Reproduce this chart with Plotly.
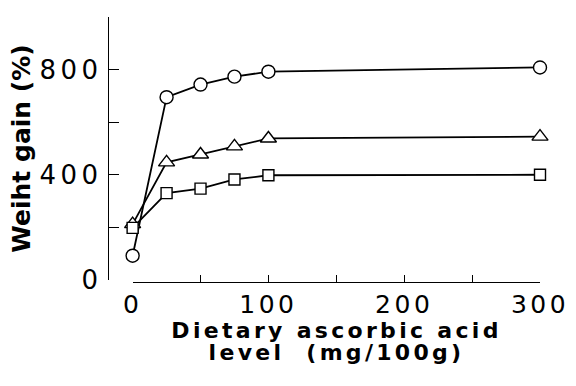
import plotly.graph_objects as go

levels = [0, 25, 50, 75, 100, 300]
gain_circle = [92, 695, 743, 773, 792, 808]
gain_triangle = [212, 447, 477, 508, 538, 545]
gain_square = [198, 330, 347, 382, 398, 400]

x_tickvals = [0, 50, 100, 150, 200, 250, 300]
x_ticktext = ["0", "", "100", "", "200", "", "300"]
y_tickvals = [0, 200, 400, 600, 800, 1000]
y_ticktext = ["0", "", "400", "", "800", ""]

x_title_1 = "Dietary ascorbic acid"
x_title_2 = "level  (mg/100g)"
y_title = "Weiht gain (%)"

fig = go.Figure()
series = [
    (gain_circle, "circle", 13),
    (gain_triangle, "triangle-up", 14),
    (gain_square, "square", 11),
]
for ys, sym, sz in series:
    fig.add_trace(go.Scatter(
        x=levels, y=ys, mode="lines+markers",
        line=dict(color="black", width=1.8),
        marker=dict(symbol=sym, size=sz, color="white",
                    line=dict(color="black", width=1.4)),
        cliponaxis=False, showlegend=False))

xmid = 0.057 + (1 - 0.057) / 2
for txt, yy in [(x_title_1, -0.130), (x_title_2, -0.213)]:
    fig.add_annotation(
        text="<b>" + txt + "</b>", xref="paper", yref="paper",
        x=xmid, y=yy, xanchor="center", yanchor="top",
        showarrow=False, font=dict(size=22, family="DejaVu Sans", color="black"),
    )

fig.update_layout(
    width=576, height=386,
    margin=dict(l=108, r=30, t=17, b=104),
    plot_bgcolor="white", paper_bgcolor="white",
    font=dict(family="DejaVu Sans", color="black"),
    xaxis=dict(
        range=[0, 300], domain=[0.057, 1], anchor="free", position=0,
        tickvals=x_tickvals, ticktext=x_ticktext,
        ticks="inside", ticklen=7, tickwidth=1.3, tickcolor="black",
        showline=True, linecolor="black", linewidth=1.3,
        showgrid=False, zeroline=False,
        tickfont=dict(size=25, family="DejaVu Sans"),
    ),
    yaxis=dict(
        range=[0, 1000], domain=[0.008, 1], anchor="free", position=0,
        tickvals=y_tickvals, ticktext=y_ticktext,
        ticks="inside", ticklen=10, tickwidth=1.3, tickcolor="black",
        showline=True, linecolor="black", linewidth=1.3,
        showgrid=False, zeroline=False,
        tickfont=dict(size=26, family="DejaVu Sans"),
        title=dict(text="<b>" + y_title + "</b>",
                   font=dict(size=25, family="DejaVu Sans"), standoff=14),
    ),
)

post = """
var st = document.createElement('style');
st.textContent = '.xtick text { letter-spacing: 3.5px !important; } '
  + '.ytick text, g.ytick > text { letter-spacing: 4.5px !important; } '
  + '.annotation-text { letter-spacing: 3.3px; }';
document.head.appendChild(st);
var gd = document.getElementById('{plot_id}');
gd.querySelectorAll('g.ytick text').forEach(function(t){
  t.setAttribute('letter-spacing', '4.5px');
  t.style.letterSpacing = '4.5px';
});
"""

fig.write_html("out.html", post_script=post)
